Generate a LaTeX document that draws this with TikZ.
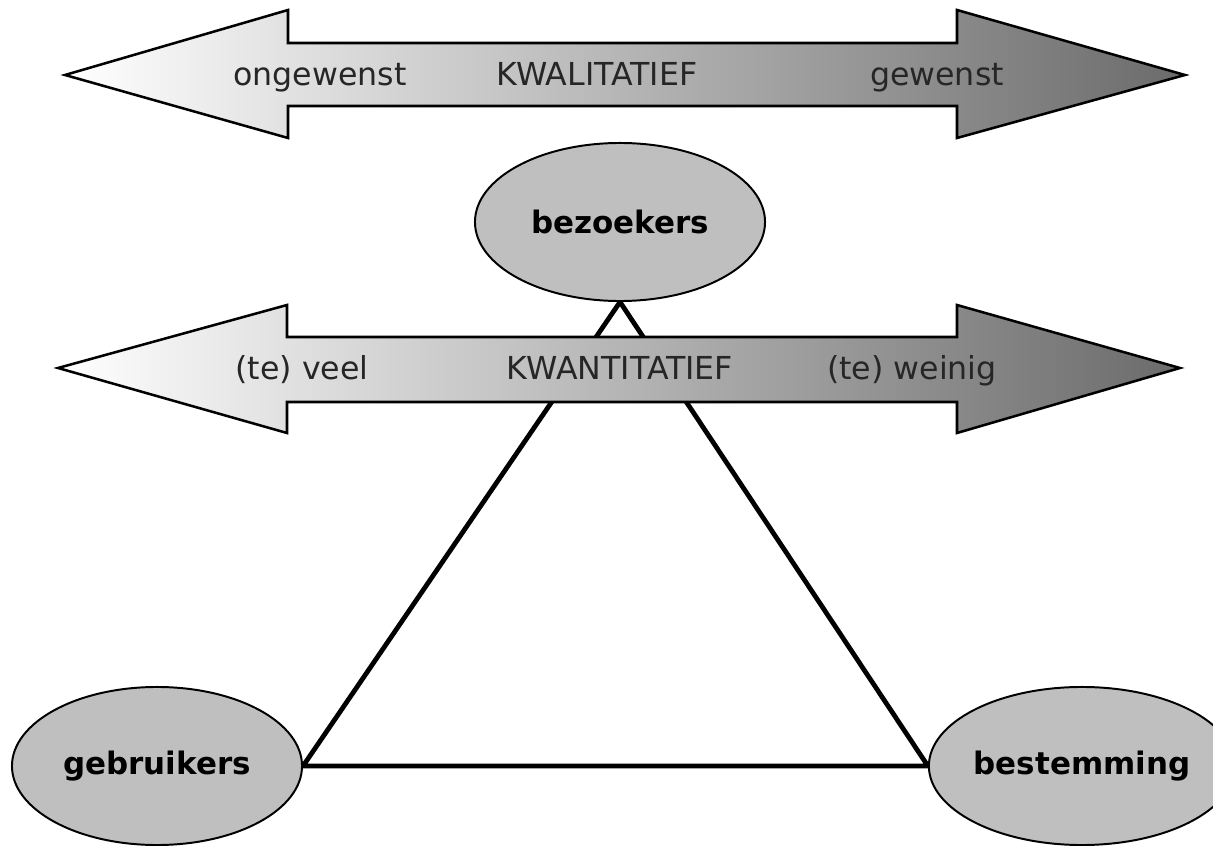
\documentclass[tikz,border=0pt]{standalone}
\usepackage{fontspec}
\setmainfont{DejaVu Sans}
\usetikzlibrary{shapes.geometric,backgrounds}

\begin{document}
\begin{tikzpicture}[x=0.025cm, y=-0.025cm,
    every node/.style={font=\fontsize{22.5}{27}\selectfont},
    blob/.style={ellipse, draw, line width=1.4pt, fill=black!25, inner sep=0pt,
        minimum width=7.25cm, minimum height=3.95cm, font=\fontsize{22}{27}\selectfont\bfseries},
    arrowtxt/.style={text=black!85, anchor=base},
    bigarrow/.style={left color=white, right color=black!58, draw=black, line width=1.8pt, line join=miter}]
    \useasboundingbox (0,0) rectangle (1213,846);
    \clip (0,0) rectangle (1213,846);

    \shade[bigarrow] (65,75) -- (288,10) -- (288,43) -- (957,43) -- (957,10) -- (1185,75)
        -- (957,138) -- (957,106) -- (288,106) -- (288,138) -- cycle;

    \node[arrowtxt] (ONG) at (320,86) {ongewenst};
    \node[arrowtxt] (KWAL) at (597,86) {KWALITATIEF};
    \node[arrowtxt] (GEW) at (937,86) {gewenst};

    \node[blob] (BEZ) at (620,222) {bezoekers};
    \node[blob] (GEB) at (157,766) {gebruikers};
    \node[blob] (BEST) at (1082,766) {bestemming};

    \begin{scope}[on background layer]
        \draw[line width=3.4pt, line join=miter] (BEZ.south) -- (GEB.east) -- (BEST.west) -- cycle;
    \end{scope}

    \shade[bigarrow] (58,368) -- (287,305) -- (287,337) -- (957,337) -- (957,305) -- (1180,368)
        -- (957,433) -- (957,402) -- (287,402) -- (287,433) -- cycle;

    \node[arrowtxt] (VEEL) at (302,380) {(te) veel};
    \node[arrowtxt] (KWAN) at (620,380) {KWANTITATIEF};
    \node[arrowtxt] (WEIN) at (912,380) {(te) weinig};
\end{tikzpicture}
\end{document}
